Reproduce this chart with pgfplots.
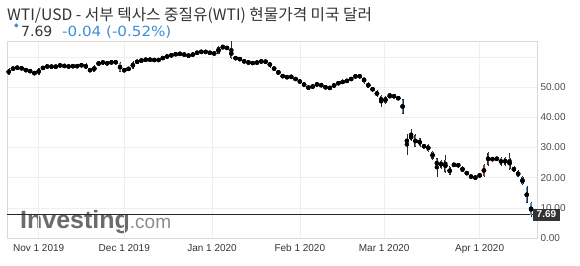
\documentclass[border=0pt]{standalone}
\usepackage{pgfplots}
\pgfplotsset{compat=1.18}
\usepackage{pgfplotstable}
\usepackage{graphicx}
\usepackage{fontspec}
\setmainfont{Liberation Sans}
\newfontfamily\kr{Noto Sans CJK KR}
\newfontfamily\dv{DejaVu Sans}
\definecolor{cblue}{HTML}{4F8EC6}
\definecolor{cred}{HTML}{A3372F}
\definecolor{cedge}{HTML}{2B2B2B}
\definecolor{txtblue}{HTML}{3A8FD9}
\definecolor{txtdark}{HTML}{333333}
\definecolor{gridc}{HTML}{EFEFEF}

\pgfplotstableread{
i o h l c
0 54.2 56.2 54.0 56.0
1 56.0 56.6 55.8 56.2
2 56.2 56.9 56.0 56.7
3 56.7 56.9 55.6 55.8
4 55.8 56.0 55.3 55.5
5 55.5 55.8 54.9 55.1
6 55.1 55.3 53.9 54.2
7 54.2 56.4 54.0 56.2
8 56.2 56.8 56.0 56.5
9 56.5 57.4 56.3 57.2
10 57.2 57.4 56.2 56.4
11 56.4 57.4 56.2 57.2
12 57.2 57.5 56.9 57.2
13 57.2 57.3 56.7 56.9
14 56.9 57.1 56.6 56.8
15 56.8 57.3 56.6 57.1
16 57.1 57.3 56.6 56.8
17 56.8 57.9 56.7 57.7
18 57.7 57.9 55.9 56.1
19 56.1 56.3 54.9 55.2
20 55.2 57.3 55.0 57.1
21 57.1 58.8 56.9 58.6
22 58.6 58.8 57.6 57.8
23 57.8 58.2 57.6 58.0
24 58.0 58.6 57.8 58.4
25 58.4 58.6 57.9 58.1
26 58.1 58.2 55.0 55.2
27 55.2 56.2 55.0 56.0
28 56.0 56.4 55.8 56.1
29 56.1 58.6 55.9 58.4
30 58.4 58.7 58.2 58.4
31 58.4 59.5 58.2 59.2
32 59.2 59.4 58.8 59.0
33 59.0 59.4 58.8 59.2
34 59.2 59.4 58.6 58.8
35 58.8 59.4 58.6 59.2
36 59.2 60.3 59.0 60.1
37 60.1 60.4 59.9 60.2
38 60.2 61.1 60.0 60.9
39 60.9 61.2 60.7 60.9
40 60.9 61.4 60.7 61.2
41 61.2 61.4 60.2 60.4
42 60.4 60.7 60.2 60.5
43 60.5 61.3 60.3 61.1
44 61.1 61.9 60.9 61.7
45 61.7 62.0 61.5 61.7
46 61.7 61.9 61.4 61.7
47 61.7 61.9 60.9 61.1
48 61.1 61.6 60.8 61.2
49 61.2 63.8 61.0 63.1
50 63.1 64.0 62.8 63.3
51 63.3 63.5 62.5 62.7
52 62.7 65.2 59.3 59.6
53 59.6 60.0 59.3 59.6
54 59.6 59.8 58.8 59.0
55 59.0 59.2 57.9 58.1
56 58.1 58.6 57.9 58.2
57 58.2 58.4 57.6 57.8
58 57.8 58.7 57.6 58.5
59 58.5 58.8 58.3 58.5
60 58.5 58.9 58.1 58.3
61 58.3 58.5 56.5 56.7
62 56.7 56.9 55.4 55.6
63 55.6 55.8 54.0 54.2
64 54.2 54.4 52.9 53.1
65 53.1 53.7 52.9 53.5
66 53.5 53.8 53.1 53.3
67 53.3 53.5 51.9 52.1
68 52.1 52.4 51.4 51.6
69 51.6 51.8 49.9 50.1
70 50.1 50.4 49.3 49.6
71 49.6 51.0 49.4 50.8
72 50.8 51.3 50.6 51.0
73 51.0 51.2 50.1 50.3
74 50.3 50.5 49.4 49.6
75 49.6 50.1 49.4 49.9
76 49.9 51.4 49.7 51.2
77 51.2 51.6 51.0 51.4
78 51.4 52.3 51.2 52.1
79 52.1 52.4 51.7 52.1
80 52.1 53.5 51.9 53.3
81 53.3 54.1 53.1 53.8
82 53.8 54.0 53.2 53.4
83 53.4 53.5 51.2 51.4
84 51.4 51.6 49.7 49.9
85 49.9 50.1 48.5 48.7
86 48.7 48.9 46.9 47.1
87 47.1 47.3 43.3 44.8
88 44.8 47.0 44.5 46.8
89 46.8 48.1 46.5 47.2
90 47.2 47.4 46.5 46.8
91 46.8 47.0 45.6 45.9
92 45.9 46.2 41.0 41.3
93 32.0 34.6 27.4 32.4
94 32.6 36.2 32.3 34.3
95 34.0 34.4 30.0 30.3
96 30.5 33.2 30.2 33.0
97 30.6 30.9 29.9 30.2
98 30.9 31.2 28.6 28.9
99 28.6 28.9 26.0 26.3
100 26.3 26.6 20.3 23.3
101 23.3 25.9 23.0 25.6
102 25.9 27.6 21.6 22.0
103 21.0 23.8 20.8 23.6
104 24.0 24.8 23.9 24.4
105 24.3 24.6 23.7 23.9
106 23.6 23.9 21.8 22.0
107 22.0 22.2 20.8 21.0
108 20.5 20.8 19.9 20.2
109 20.0 20.4 19.6 20.1
110 20.2 21.6 19.9 21.3
111 20.5 24.6 20.2 24.3
112 24.3 28.6 24.0 28.2
113 26.3 26.5 25.7 26.0
114 26.0 26.8 25.8 26.5
115 26.5 26.7 24.0 24.3
116 24.3 26.9 24.0 26.6
117 26.6 28.2 22.7 23.0
118 23.6 23.8 21.8 22.0
119 22.3 22.5 20.1 20.3
120 20.2 20.4 17.6 17.8
121 17.0 17.2 11.5 11.7
122 11.7 11.9 7.0 7.69
}\candles

\begin{document}
\begin{tikzpicture}
\path[use as bounding box] (0,0) rectangle (580pt,265pt);
% title lines
\node[anchor=base west, inner sep=0, text=txtdark] at (7pt,244.5pt)
  {\kr\fontsize{15.7}{17}\selectfont WTI/USD - 서부 텍사스 중질유(WTI) 현물가격 미국 달러};
\node[anchor=base west, inner sep=0, text=txtblue] at (14pt,237pt)
  {\dv\fontsize{6}{7}\selectfont ◆};
\node[anchor=base west, inner sep=0, text=txtdark] at (21pt,228pt)
  {\dv\fontsize{14}{16}\selectfont 7.69};
\node[anchor=base west, inner sep=0, text=txtblue] at (62pt,228pt)
  {\scalebox{1.08}[1]{\dv\fontsize{14}{16}\selectfont -0.04 (-0.52\%)}};
% watermark
\node[anchor=base west, inner sep=0] at (20pt,37pt)
  {\fontsize{25}{28}\selectfont\bfseries\color{black!58}Investing\mdseries\fontsize{19}{22}\selectfont\color{black!45}.com};
\begin{axis}[
  at={(7pt,27pt)}, anchor=south west,
  scale only axis, width=530pt, height=197pt,
  xmin=-0.4, xmax=123.4, ymin=0, ymax=65.3,
  axis line style={draw=black!15},
  major tick length=0pt, minor tick length=0pt,
  grid=both, major grid style={draw=gridc, line width=0.6pt},
  minor grid style={draw=gridc, line width=0.6pt},
  xtick={7,27,47.5,68,87.7,110},
  xticklabels={Nov 1 2019,Dec 1 2019,Jan 1 2020,Feb 1 2020,Mar 1 2020,Apr 1 2020},
  xticklabel style={font=\fontsize{10}{12}\selectfont, text=txtdark, yshift=-3pt},
  ytick={0,10,20,30,40,50},
  minor ytick={60},
  yticklabel pos=right,
  yticklabel style={font=\fontsize{10}{12}\selectfont, text=black!70, anchor=west},
  /pgf/number format/assume math mode=true,
  yticklabel={\pgfmathprintnumber[fixed, fixed zerofill, precision=2]{\tick}},
  extra y ticks={7.69},
  extra y tick style={
    major grid style={draw=black!85, line width=0.9pt},
    yticklabel style={fill=black!80, text=white, xshift=-4pt, inner xsep=3.5pt, inner ysep=1.5pt, text height=7.5pt, text depth=1.5pt, font=\fontsize{10}{12}\selectfont\bfseries},
  },
]
% wicks
\addplot[only marks, mark=none, forget plot,
  error bars/.cd, y dir=both, y explicit, error mark=none,
  error bar style={draw=cedge, line width=0.4pt, solid, line cap=butt}]
  table[x=i, y expr={0.5*(\thisrow{h}+\thisrow{l})}, y error expr={0.5*(\thisrow{h}-\thisrow{l})}] {\candles};
% body outlines
\addplot[only marks, mark=none, forget plot,
  error bars/.cd, y dir=both, y explicit, error mark=none,
  error bar style={draw=cedge, line width=2.1pt, solid, line cap=butt}]
  table[x=i, y expr={0.5*(\thisrow{o}+\thisrow{c})}, y error expr={max(0.5*abs(\thisrow{o}-\thisrow{c}),0.05)+0.06}] {\candles};
% down bodies
\addplot[only marks, mark=none, forget plot,
  error bars/.cd, y dir=both, y explicit, error mark=none,
  error bar style={draw=cblue, line width=1.2pt, solid, line cap=butt}]
  table[x=i, y expr={\thisrow{c}<\thisrow{o} ? 0.5*(\thisrow{o}+\thisrow{c}) : nan}, y error expr={max(0.5*abs(\thisrow{o}-\thisrow{c})-0.1,0)}] {\candles};
% up bodies
\addplot[only marks, mark=none, forget plot,
  error bars/.cd, y dir=both, y explicit, error mark=none,
  error bar style={draw=cred, line width=1.2pt, solid, line cap=butt}]
  table[x=i, y expr={\thisrow{c}<\thisrow{o} ? nan : 0.5*(\thisrow{o}+\thisrow{c})}, y error expr={max(0.5*abs(\thisrow{o}-\thisrow{c})-0.1,0)}] {\candles};
\end{axis}
\end{tikzpicture}
\end{document}
